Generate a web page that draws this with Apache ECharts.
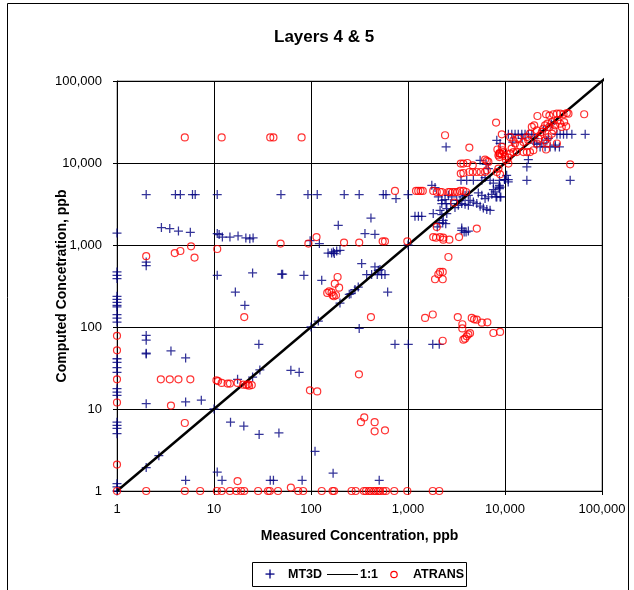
<!DOCTYPE html>
<html>
<head>
<meta charset="utf-8">
<script src="https://cdn.jsdelivr.net/npm/echarts@6/dist/echarts.min.js"></script>
<style>
html,body{margin:0;padding:0;background:#fff;}
#chart{width:634px;height:590px;}
</style>
</head>
<body>
<div id="chart"></div>
<script>
// ---------- data ----------
const titleText = 'Layers 4 & 5';
const xAxisName = 'Measured Concentration, ppb';
const yAxisName = 'Computed Concetration, ppb';
const legendNames = ['MT3D', '1:1', 'ATRANS'];
const oneToOne = [[1, 1], [115000, 115000]];

const mt3dLow = [
  [1,1400],[1,470],[1,425],[1,390],[1,237],[1,217],[1,200],[1,184],[1,176],[1,142],[1,128],[1,115],
  [1,41],[1,37],[1,32],[1,28],[1,17.7],[1,16.1],[1,14.7],[1,6.9],[1,6.3],[1,5.8],[1,5.0],[1,1.23],[1,1.12],[1,1.0],
  [2,620],[2,560],[2,79],[2,69],[2,47],[2,48],[2,11.6],[2,1.93],
  [3.6,51],[5.1,42],[5.1,12.2],[7.4,12.8],[2.7,2.7],[5.1,1.35],[10,10],[14.8,6.9],[20.3,6.2],[29.2,4.9],[46.7,5.1],
  [10.8,1.7],[12.1,1.35],[38,1.35],[41,1.35],[81,1.35],[110,3.05],[169,1.65],[505,1.35],
  [17.5,23],[25,24.5],[29.7,30],[29,61.5],[62,29.6],[75.5,28],[100,100],[119,118],[199,196],[248,250],[258,255],
  [284,286],[307,307],[16.6,267],[20.8,184],[314,96],[617,267]
];
const mt3dMid = [
  [2,4120],[4,4120],[4.5,4120],[6,4120],[6.4,4120],[10.8,4120],[49,4120],[93,4120],[116,4120],[220,4120],
  [314,4120],[556,4120],[593,4120],[1000,4120],[752,3680],
  [2.87,1630],[3.5,1585],[4.3,1480],[5.7,1430],[10.8,1380],[11.3,1340],[12.2,1250],[14.6,1250],[17.7,1290],
  [21.3,1220],[23.4,1190],[25.3,1220],
  [10.8,427],[25,456],[49.7,440],[51,440],[84.5,427],[129,371],
  [98,1130],[122,1040],[191,1740],[415,2130],[360,1380],[456,1350],
  [150,798],[163,798],[170,822],[174,785],[184,845],[199,862],
  [333,593],[456,540],[494,491],[375,436],[422,436],[482,436],[535,436],[579,436],[514,501],
  [734,61.5],[1007,61.5],[1800,61.5],[2100,61.5],[1000,1000]
];
const mt3dHigh = [
  [1760,5350],[1900,5010],
  [2055,3850],[2230,3510],[2410,3580],[2610,4030],[2825,3850],[3180,3510],[3440,3510],[3670,3850],[3875,4030],
  [4190,4030],[4360,3510],[2230,3200],[2470,3200],[2760,3200],[3050,2860],[3300,3050],[3580,3200],[3875,3130],
  [4190,3050],[2140,2650],[2510,2780],
  [1180,2240],[1280,2240],[1385,2240],[1820,2415],[2230,2350],[2510,2415],
  [2005,1660],[2280,1855],[2310,2000],[2090,1855],[2450,1820],
  [3580,1510],[3790,1440],[3970,1440],[4190,1480],[3580,1610],
  [5540,10800],[6380,9640],[6740,8530],[7020,6150],[7590,5700],[8690,5090],[8900,3850],[8090,3850],
  [10000,6280],[10800,6280],[10800,5870],[10400,7080],
  [3520,6150],[4030,6150],[4720,6150],[5770,6150],[6230,6640],[8760,6150],[9880,6280],
  [8760,5340],[8760,4870],[8230,3850],[9050,3850],
  [5310,4310],[5770,4030],[6230,3680],[6740,3850],[7310,4150],[7910,4430],[7590,4730],[8900,5090],
  [4720,3340],[5120,3200],[5540,2970],[5980,2830],[6490,2710],[7020,2650],
  [10840,22400],[11750,22400],[12700,22400],[13700,22400],[14900,22400],[16100,22400],[17400,22400],[18900,22400],
  [34300,22400],[37000,22400],[40100,22400],[43400,22400],[48900,22400],[67100,22400],
  [8230,18900],[8900,17300],
  [23000,15700],[25900,15700],[29200,15700],[32900,15700],[36400,15700],[21300,16900],[20000,17500],
  [17400,11000],[16800,8940],[16800,6150],[47000,6150],[2470,15700],
  [12000,18000],[15000,20000],[20000,20000],[25000,25000],[30000,30000],[28000,20000],
  [24000,17500],[27000,19000],[33000,16500]
];

const atransLow = [
  [1,78],[1,52],[1,23],[1,12],[1,2.1],[1,1],
  [2,730],[2,1],[2.83,23],[3.5,23],[4.3,23],[5.7,23],[3.6,11],[5.0,6.75],[20.5,132],
  [5,1],[7.2,1],[10.7,1],[12,1],[14.6,1],[17,1],[19,1],[20.5,1],[28.5,1],[36,1],[37.6,1],[45.7,1],[62,1.1],
  [73.8,1],[83,1],[129,1],[167,1],[173,1],[262,1],[289,1],[351,1],[369,1],[396,1],[415,1],[446,1],[467,1],
  [494,1],[514,1],[556,1],[593,1],[722,1],[984,1],[1800,1],[2100,1],[17.5,1.32],
  [10.6,22.4],[11,21.9],[12,20.8],[13.8,20.4],[14.6,20.4],[17.5,20.8],[20,19.8],[21.6,19.6],[23,19.2],
  [24.5,19.6],[22.5,20],
  [97.5,16.9],[116,16.4],[312,26.5],[327,6.9],[354,7.9],[453,6.9],[453,5.35],[579,5.5],
  [415,132],[1500,129],[1800,142],[3260,132],[3630,108],[3630,96],[4360,84],[3720,70],[3870,72],[4030,77],
  [4190,81.5],[2280,68],[4540,129],[4800,124],[5120,123],[5770,113],[6580,114],[7590,84.5],[8900,87],
  [188,407],[176,338],[195,302],[154,272],[147,260],[163,264],[167,244],[172,237],[181,244],
  [1900,382],[2055,440],[2140,469],[2280,469],[2280,382]
];
const atransMid = [
  [114,1250],[94,1040],[48.6,1040],[219,1070],[314,1070],[548,1110],[579,1110],[984,1110],
  [3.94,798],[4.5,845],[5.8,964],[6.3,702],[10.8,894],
  [5,20500],[12,20500],[38,20500],[41,20500],[80,20500],
  [734,4560],
  [1210,4560],[1275,4560],[1350,4560],[1420,4560],[1820,4560],[1980,4430],[2140,4430],[2230,4430],[2610,4430],
  [2710,4430],[2890,4430],[3050,4430],[3230,4430],[3440,4560],[3720,4560],[3970,4430],
  [1980,1660],[2990,3290],[5120,1585],[2610,714],
  [1820,1250],[1945,1230],[2140,1250],[2310,1230],[2310,1160],[2670,1160],[3360,1250]
];
const atransHigh = [
  [3500,9840],[3720,9840],[4090,10000],[4650,9380],[3500,7430],[3720,7550],[4290,7770],[4650,7770],[5120,7770],
  [5620,7770],[6230,7770],[6490,8150],[6230,11000],[6490,10600],[6740,10300],
  [8230,7770],[8550,8530],[8900,7280],[8760,13000],[8760,11800],[10260,10800],[10840,9840],
  [2410,21800],[4290,15400],[8090,31100],[9270,22400],[21600,37400],[26500,39300],[28700,37900],[31600,39300],
  [34300,40000],[37000,40000],[40100,39300],[43400,40700],[45100,40000],[65500,39300],[47000,9640],
  [11300,20700],[12200,18900],[12700,17300],[13700,19800],[14300,16400],[15500,18000],[16800,20700],[17400,18900],
  [18100,22800],[18900,27500],[20000,28800],[21300,25000],[22100,19800],[23000,21800],[24000,23900],[24900,26300],
  [25900,28800],[27400,30200],[28700,27500],[30400,31600],[31600,25000],[32900,28800],[34800,33200],[37000,30200],
  [38500,27500],[40700,31600],[42700,28000],[25900,18900],[28000,20700],[30400,22800],[19600,14300],[16800,13600],
  [18100,13600],[15500,13600],[13200,13600],[11700,15000],[9270,15700],[9490,14300],[8900,13000],[8550,12400],
  [26500,14600],[34300,17300],[21300,17300],[27000,17300],
  [8350,14600],[8750,13200],[9270,12800],[10000,12100],[10800,11600],[11300,13000],[12200,13600],[9630,13600]
];

const mt3dData = mt3dLow.concat(mt3dMid, mt3dHigh);
const atransData = atransLow.concat(atransMid, atransHigh);

// ---------- chart ----------
const FONT = "'Liberation Sans', Arial, sans-serif";
const NAVY = '#000080';
const RED = '#ff0000';
const plusPath = 'path://M-0.14,-1H0.14V-0.14H1V0.14H0.14V1H-0.14V0.14H-1V-0.14H-0.14Z';
const fmt = v => Math.round(v).toLocaleString('en-US');
const legendFont = 'bold 12.5px ' + FONT;

const chart = echarts.init(document.getElementById('chart'), null, {renderer: 'canvas'});
chart.setOption({
  animation: false,
  backgroundColor: '#fff',
  textStyle: {fontFamily: FONT},
  title: {
    text: titleText,
    left: 274, top: 29, padding: 0,
    textStyle: {fontFamily: FONT, fontSize: 17, fontWeight: 'bold', color: '#000'}
  },
  grid: {
    left: 117, top: 81, width: 485, height: 410,
    show: true, borderColor: '#808080', borderWidth: 1, backgroundColor: 'transparent'
  },
  xAxis: {
    type: 'log', logBase: 10, min: 1, max: 100000,
    name: xAxisName, nameLocation: 'middle', nameGap: 38, nameMoveOverlap: false,
    nameTextStyle: {fontFamily: FONT, fontSize: 14, fontWeight: 'bold', color: '#000'},
    axisLine: {show: true, lineStyle: {color: '#000', width: 1}},
    axisTick: {show: true, length: 4, lineStyle: {color: '#000'}},
    axisLabel: {fontFamily: FONT, fontSize: 13, color: '#000', margin: 12, formatter: fmt},
    splitLine: {show: true, lineStyle: {color: '#000', width: 1}},
    minorTick: {show: false}
  },
  yAxis: {
    type: 'log', logBase: 10, min: 1, max: 100000,
    name: yAxisName, nameLocation: 'middle', nameGap: 48, nameRotate: 90, nameMoveOverlap: false,
    nameTextStyle: {fontFamily: FONT, fontSize: 14, fontWeight: 'bold', color: '#000'},
    axisLine: {show: true, lineStyle: {color: '#000', width: 1}},
    axisTick: {show: true, length: 4, lineStyle: {color: '#000'}},
    axisLabel: {fontFamily: FONT, fontSize: 13, color: '#000', margin: 15, formatter: fmt},
    splitLine: {show: true, lineStyle: {color: '#000', width: 1}}
  },
  series: [
    {
      name: legendNames[0], type: 'scatter', data: mt3dData,
      symbol: plusPath, symbolSize: 9, symbolKeepAspect: true,
      itemStyle: {color: NAVY}, z: 2
    },
    {
      name: legendNames[1], type: 'line', data: oneToOne, clip: false,
      symbol: 'none', showSymbol: false,
      lineStyle: {color: '#000', width: 2.5}, itemStyle: {color: '#000'}, z: 3
    },
    {
      name: legendNames[2], type: 'scatter', data: atransData,
      symbol: 'circle', symbolSize: 7,
      itemStyle: {color: 'rgba(255,255,255,0)', borderColor: RED, borderWidth: 1.2}, z: 4
    }
  ],
  graphic: [
    {type: 'rect', silent: true, z: -10,
     shape: {x: 7.5, y: 3.5, width: 621, height: 620},
     style: {fill: 'none', stroke: '#000', lineWidth: 1}},
    // legend box
    {type: 'group', silent: true, z: 20, children: [
      {type: 'rect', shape: {x: 252.5, y: 562.5, width: 214, height: 24},
       style: {fill: '#fff', stroke: '#000', lineWidth: 1}},
      {type: 'rect', shape: {x: 265.5, y: 573.4, width: 9, height: 1.3}, style: {fill: NAVY}},
      {type: 'rect', shape: {x: 269.35, y: 569.5, width: 1.3, height: 9}, style: {fill: NAVY}},
      {type: 'text', x: 288, y: 574.5,
       style: {text: legendNames[0], font: legendFont, fill: '#000', verticalAlign: 'middle', align: 'left'}},
      {type: 'line', shape: {x1: 327, y1: 574.5, x2: 358, y2: 574.5},
       style: {stroke: '#000', lineWidth: 1}},
      {type: 'text', x: 360, y: 574.5,
       style: {text: legendNames[1], font: legendFont, fill: '#000', verticalAlign: 'middle', align: 'left'}},
      {type: 'circle', shape: {cx: 394, cy: 574.5, r: 3.2},
       style: {fill: 'none', stroke: RED, lineWidth: 1.2}},
      {type: 'text', x: 413, y: 574.5,
       style: {text: legendNames[2], font: legendFont, fill: '#000', verticalAlign: 'middle', align: 'left'}}
    ]}
  ]
});
</script>
</body>
</html>
